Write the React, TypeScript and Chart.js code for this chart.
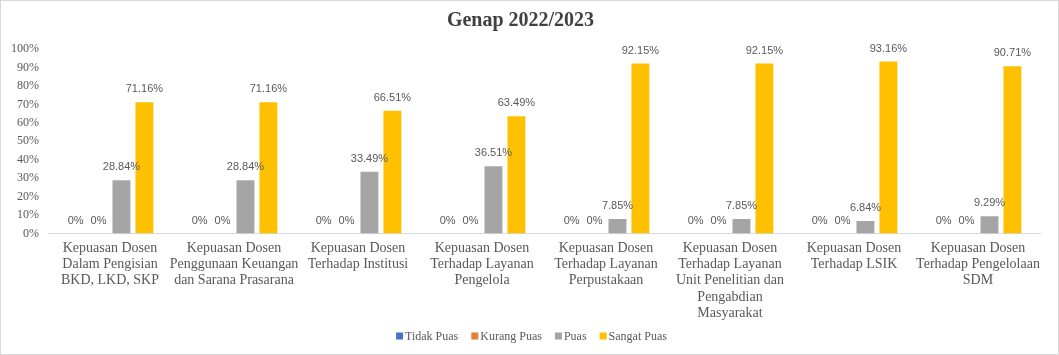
import React, { useEffect, useRef } from "react";
import { Chart, registerables } from "chart.js";

Chart.register(...registerables);

const categories: string[][] = [
  ["Kepuasan Dosen", "Dalam Pengisian", "BKD, LKD, SKP"],
  ["Kepuasan Dosen", "Penggunaan Keuangan", "dan Sarana Prasarana"],
  ["Kepuasan Dosen", "Terhadap Institusi"],
  ["Kepuasan Dosen", "Terhadap Layanan", "Pengelola"],
  ["Kepuasan Dosen", "Terhadap Layanan", "Perpustakaan"],
  ["Kepuasan Dosen", "Terhadap Layanan", "Unit Penelitian dan", "Pengabdian", "Masyarakat"],
  ["Kepuasan Dosen", "Terhadap LSIK"],
  ["Kepuasan Dosen", "Terhadap Pengelolaan", "SDM"],
];

const tidakPuas = [0, 0, 0, 0, 0, 0, 0, 0];
const kurangPuas = [0, 0, 0, 0, 0, 0, 0, 0];
const puas = [28.84, 28.84, 33.49, 36.51, 7.85, 7.85, 6.84, 9.29];
const sangatPuas = [71.16, 71.16, 66.51, 63.49, 92.15, 92.15, 93.16, 90.71];

const seriesNames = ["Tidak Puas", "Kurang Puas", "Puas", "Sangat Puas"];
const seriesColors = ["#4472C4", "#ED7D31", "#A5A5A5", "#FFC000"];
const titleText = "Genap 2022/2023";

const SERIF = "'Liberation Serif', 'Times New Roman', serif";
const SANS = "'Liberation Sans', Arial, sans-serif";

const dataLabelPlugin = {
  id: "dataLabels",
  afterDatasetsDraw(chart: any) {
    const ctx = chart.ctx;
    ctx.save();
    ctx.font = `11px ${SANS}`;
    ctx.fillStyle = "#595959";
    ctx.textAlign = "center";
    ctx.textBaseline = "middle";
    chart.data.datasets.forEach((ds: any, di: number) => {
      const meta = chart.getDatasetMeta(di);
      meta.data.forEach((el: any, i: number) => {
        const v = ds.data[i];
        const txt = v === 0 ? "0%" : v.toFixed(2) + "%";
        ctx.fillText(txt, el.x, el.y - 13);
      });
    });
    ctx.restore();
  },
};

const legendPlugin = {
  id: "customLegend",
  afterDraw(chart: any) {
    const ctx = chart.ctx;
    ctx.save();
    ctx.font = `12px ${SERIF}`;
    ctx.textBaseline = "middle";
    ctx.textAlign = "left";
    const box = 7;
    const boxGap = 2;
    const itemGap = 13;
    const items = chart.data.datasets.map((ds: any) => ({
      text: ds.label,
      color: ds.backgroundColor,
      w: box + boxGap + ctx.measureText(ds.label).width,
    }));
    const total =
      items.reduce((s: number, it: any) => s + it.w, 0) + itemGap * (items.length - 1);
    let x = chart.width / 2 - total / 2 + 2;
    const y = chart.height - 18;
    items.forEach((it: any) => {
      ctx.fillStyle = it.color;
      ctx.fillRect(x, y - box / 2, box, box);
      ctx.fillStyle = "#595959";
      ctx.fillText(it.text, x + box + boxGap, y + 0.5);
      x += it.w + itemGap;
    });
    ctx.restore();
  },
};

export default function App() {
  const ref = useRef<HTMLCanvasElement>(null);
  useEffect(() => {
    const data = [tidakPuas, kurangPuas, puas, sangatPuas];
    const chart = new Chart(ref.current!, {
      type: "bar",
      data: {
        labels: categories,
        datasets: seriesNames.map((n, i) => ({
          label: n,
          data: data[i],
          backgroundColor: seriesColors[i],
          borderWidth: 0,
          barPercentage: 0.78,
          categoryPercentage: 0.74,
        })),
      },
      options: {
        responsive: false,
        animation: false,
        layout: { padding: { left: 0, right: 18, top: 6, bottom: 26 } },
        plugins: {
          title: {
            display: true,
            text: titleText,
            color: "#404040",
            font: { family: SERIF, size: 20, weight: "bold" },
            padding: { top: 2, bottom: 16 },
          },
          legend: { display: false },
          tooltip: { enabled: false },
        },
        scales: {
          x: {
            grid: { display: false, drawTicks: false },
            border: { color: "#D9D9D9", width: 1 },
            ticks: {
              color: "#595959",
              font: { family: SERIF, size: 14, lineHeight: 1.15 },
              maxRotation: 0,
              autoSkip: false,
              padding: 7,
            },
          },
          y: {
            min: 0,
            max: 100,
            grid: { display: false, drawTicks: false },
            border: { display: false },
            ticks: {
              stepSize: 10,
              autoSkip: false,
              color: "#595959",
              font: { family: SERIF, size: 12 },
              callback: (v: any) => v + "%",
              padding: 9,
            },
            afterFit: (s: any) => {
              s.width = 47;
            },
          },
        },
      },
      plugins: [dataLabelPlugin, legendPlugin],
    });
    return () => chart.destroy();
  }, []);
  return (
    <div
      style={{
        position: "absolute",
        left: 0,
        top: 0,
        width: 1059,
        height: 355,
        boxSizing: "border-box",
        border: "1px solid #D9D9D9",
        background: "#fff",
      }}
    >
      <canvas ref={ref} width={1057} height={353} style={{ display: "block" }} />
    </div>
  );
}
